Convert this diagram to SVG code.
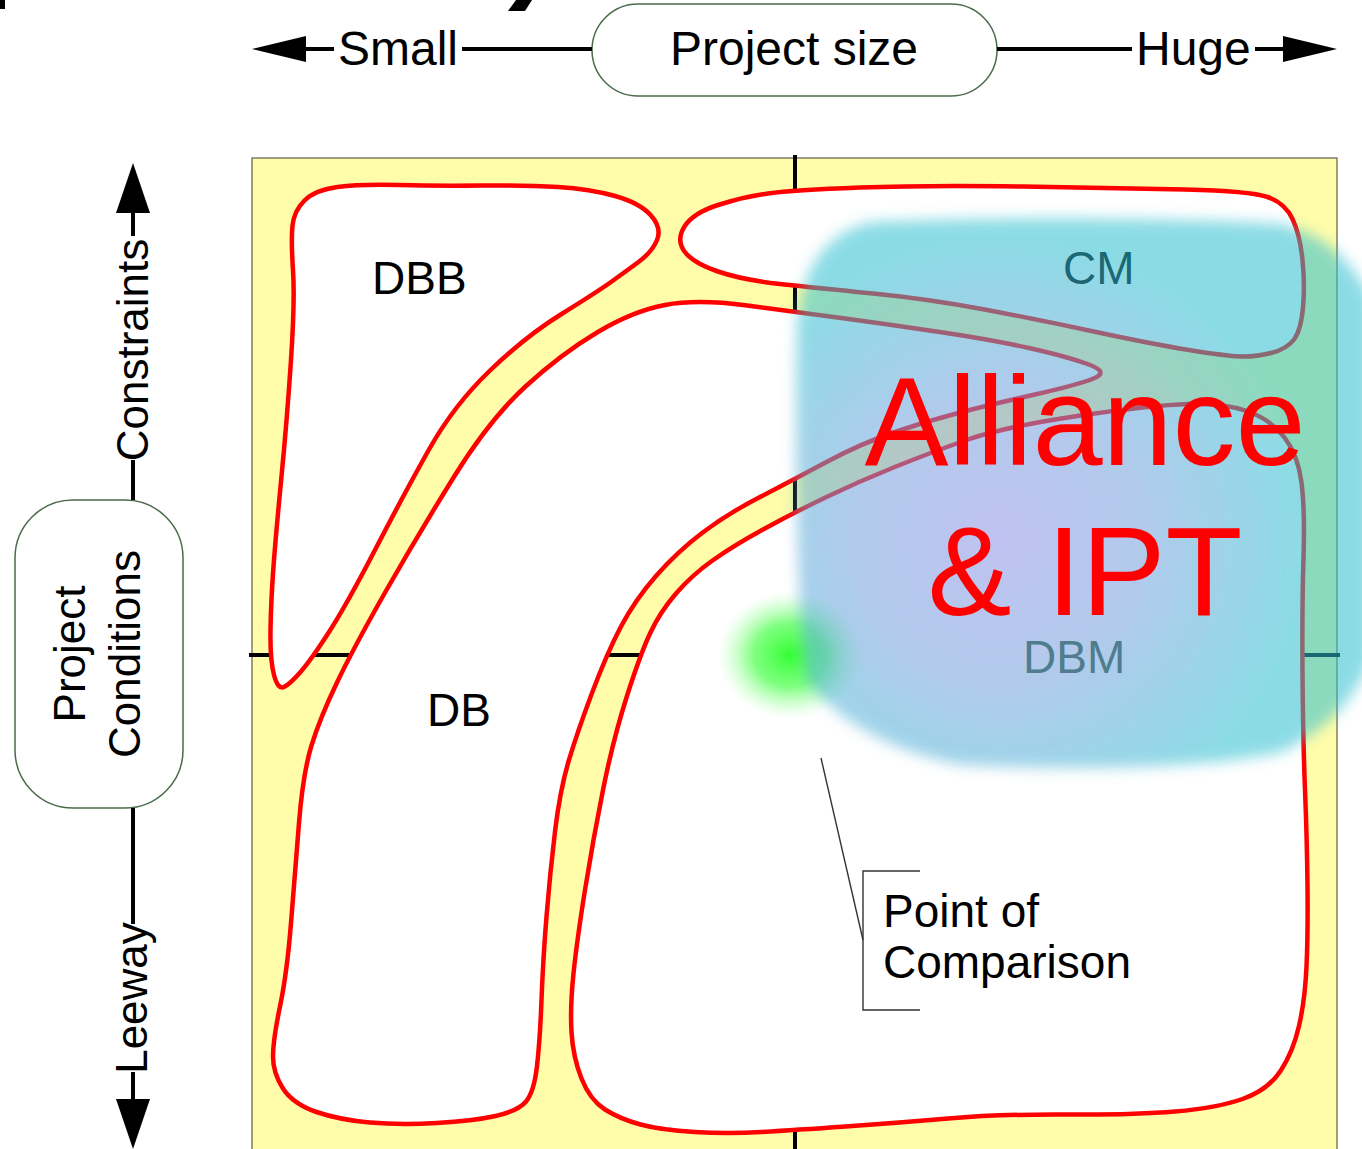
<svg xmlns="http://www.w3.org/2000/svg" width="1362" height="1149" viewBox="0 0 1362 1149">
<style>
.t{font-family:"Liberation Sans",Arial,sans-serif;fill:#000}
.ax{stroke:#000;stroke-width:4;fill:none}
.reg{fill:#fff;stroke:#ff0000;stroke-width:4.5;stroke-linejoin:round}
.pill{fill:#fff;stroke:#4b6b4b;stroke-width:1.5}
.call{fill:none;stroke:#333;stroke-width:1.4}
</style>
<defs>
<marker id="arrH" viewBox="0 0 54 26" refX="44" refY="13" markerWidth="54" markerHeight="26" markerUnits="userSpaceOnUse" orient="auto"><path d="M0,0 L54,13 L0,26 Z" fill="#000"/></marker>
<marker id="arrV" viewBox="0 0 50 34" refX="40" refY="17" markerWidth="50" markerHeight="34" markerUnits="userSpaceOnUse" orient="auto"><path d="M0,0 L50,17 L0,34 Z" fill="#000"/></marker>
<radialGradient id="blobg" gradientUnits="userSpaceOnUse" cx="1000" cy="540" r="360">
<stop offset="0" stop-color="rgb(140,145,228)"/>
<stop offset="0.4" stop-color="rgb(115,160,222)"/>
<stop offset="0.85" stop-color="rgb(45,191,208)"/>
<stop offset="1" stop-color="rgb(45,191,208)"/>
</radialGradient>
<radialGradient id="glow" cx="0.5" cy="0.5" r="0.5">
<stop offset="0" stop-color="#33ff33" stop-opacity="1"/>
<stop offset="0.5" stop-color="#55ff55" stop-opacity="0.75"/>
<stop offset="1" stop-color="#aaffaa" stop-opacity="0"/>
</radialGradient>
<filter id="soft" x="-10%" y="-10%" width="120%" height="120%"><feGaussianBlur stdDeviation="7"/></filter>
</defs>

<rect width="1362" height="1149" fill="#fff"/>
<polygon points="0,0 5,0 5,9 0,9" fill="#000"/>
<polygon points="516,0 532,0 525,11 508,11" fill="#000"/>

<g id="plot">
<rect x="252" y="158" width="1085" height="1000" fill="#fffcaa" stroke="#5e5e4a" stroke-width="1.2"/>
<line class="ax" x1="795" y1="155" x2="795" y2="1149"/>
<line class="ax" x1="249" y1="655" x2="1340" y2="655"/>
</g>

<g id="axis-labels">
<text class="t" x="338" y="65" font-size="48">Small</text>
<text class="t" x="1136" y="65" font-size="48">Huge</text>
<text class="t" font-size="44" text-anchor="middle" transform="translate(148,350) rotate(-90)">Constraints</text>
<text class="t" font-size="44" text-anchor="middle" transform="translate(147,998) rotate(-90)">Leeway</text>
</g>

<g id="project-size">
<rect class="pill" x="592" y="4" width="405" height="92" rx="46"/>
<text class="t" x="794" y="65" font-size="48" text-anchor="middle" fill="#0c160c">Project size</text>
</g>

<g id="project-conditions">
<rect class="pill" x="15" y="500" width="168" height="308" rx="58"/>
<text class="t" font-size="44" text-anchor="middle" transform="translate(85,654) rotate(-90)">Project</text>
<text class="t" font-size="44" text-anchor="middle" transform="translate(140,654) rotate(-90)">Conditions</text>
</g>

<g id="dbb">
<path class="reg" d="M292.5,225.5 Q294,211 304.5,200.5 Q315,190 337.5,187 Q360,184 398,185 Q436,186 481,185.5 Q526,185 558,187 Q590,189 615,196 Q640,203 651,215.5 Q662,228 657,240 Q652,252 638.5,262 Q625,272 611,282 Q597,292 561.5,314 Q526,336 490,370.5 Q454,405 429,449.5 Q404,494 375.5,549 Q347,604 329,632 Q311,660 300.5,672 Q290,684 284,687 Q278,690 274,675 Q270,660 270.5,630 Q271,600 273.5,566.5 Q276,533 281.5,476.5 Q287,420 291,360 Q295,300 293,270 Q291,240 292.5,225.5 Z"/>
<text class="t" x="372" y="294" font-size="46">DBB</text>
</g>

<g id="db">
<path class="reg" d="M337,682.5 Q354,647 386.5,590 Q419,533 454.5,476 Q490,419 525.5,386.5 Q561,354 597,332.5 Q633,311 665,305 Q697,299 747,305.5 Q797,312 845,318.5 Q893,325 943,332.5 Q993,340 1029,348 Q1065,356 1087.5,364 Q1110,372 1093.5,378.5 Q1077,385 1035,394.5 Q993,404 960,412.5 Q927,421 893.5,432.5 Q860,444 826.5,462 Q793,480 760,497 Q727,514 702,533 Q677,552 656,576 Q635,600 621,626.5 Q607,653 592,693 Q577,733 568.5,761.5 Q560,790 555,831.5 Q550,873 546.5,916.5 Q543,960 541.5,1000 Q540,1040 537,1066 Q534,1092 526,1101.5 Q518,1111 495.5,1116 Q473,1121 436.5,1123 Q400,1125 370,1122.5 Q340,1120 316.5,1112 Q293,1104 283,1088.5 Q273,1073 273,1056.5 Q273,1040 280,1006.5 Q287,973 291,923 Q295,873 299,823 Q303,773 311.5,745.5 Q320,718 337,682.5 Z"/>
<text class="t" x="427" y="726" font-size="46">DB</text>
</g>

<g id="cm">
<path class="reg" d="M684.5,251.5 Q676,240 684.5,226.5 Q693,213 718,205 Q743,197 768,193.5 Q793,190 860,187.5 Q927,185 1023.5,186.5 Q1120,188 1185,189.5 Q1250,191 1267.5,197 Q1285,203 1292.5,219 Q1300,235 1302.5,260 Q1305,285 1303,307.5 Q1301,330 1294,339.5 Q1287,349 1271,353 Q1255,357 1240.5,356.5 Q1226,356 1189,350 Q1152,344 1096,332 Q1040,320 984.5,309.5 Q929,299 873,293.5 Q817,288 780,284 Q743,280 718,271.5 Q693,263 684.5,251.5 Z"/>
<text class="t" x="1063" y="284" font-size="46">CM</text>
</g>

<g id="dbm">
<path class="reg" d="M626.5,697.5 Q640,655 650,633.5 Q660,612 676,593.5 Q692,575 712.5,560.5 Q733,546 763,529.5 Q793,513 826.5,497 Q860,481 893.5,467.5 Q927,454 965,440.5 Q1003,427 1077.5,416 Q1152,405 1189,404 Q1226,403 1248.5,411.5 Q1271,420 1284.5,437.5 Q1298,455 1301.5,482.5 Q1305,510 1303.5,558 Q1302,606 1302.5,673 Q1303,740 1305,790 Q1307,840 1307.5,886.5 Q1308,933 1306.5,966.5 Q1305,1000 1299,1026 Q1293,1052 1280.5,1071 Q1268,1090 1242.5,1099 Q1217,1108 1175,1111.5 Q1133,1115 1066.5,1114.5 Q1000,1114 948,1118.5 Q896,1123 845.5,1126.5 Q795,1130 761.5,1132 Q728,1134 694.5,1132 Q661,1130 640.5,1124.5 Q620,1119 605,1109.5 Q590,1100 581.5,1078.5 Q573,1057 571.5,1032 Q570,1007 573.5,973.5 Q577,940 585,890 Q593,840 603,790 Q613,740 626.5,697.5 Z"/>
</g>

<g id="connectors">
<line class="ax" x1="334" y1="49" x2="262" y2="49" marker-end="url(#arrH)"/>
<line class="ax" x1="462" y1="49" x2="592" y2="49"/>
<line class="ax" x1="997" y1="49" x2="1132" y2="49"/>
<line class="ax" x1="1255" y1="49" x2="1327" y2="49" marker-end="url(#arrH)"/>
<line class="ax" x1="133" y1="236" x2="133" y2="173" marker-end="url(#arrV)"/>
<line class="ax" x1="133" y1="460" x2="133" y2="500"/>
<line class="ax" x1="133" y1="808" x2="133" y2="924"/>
<line class="ax" x1="133" y1="1072" x2="133" y2="1139" marker-end="url(#arrV)"/>
<polyline class="call" points="821,758 863,940"/>
<polyline class="call" points="920,871 863,871 863,1010 920,1010"/>
</g>

<g id="point-of-comparison">
<text class="t" x="883" y="927" font-size="46">Point of</text>
<text class="t" x="883" y="978" font-size="46">Comparison</text>
</g>

<g id="alliance-ipt">
<ellipse cx="790" cy="655" rx="72" ry="64" fill="url(#glow)"/>
<path d="M872,222 C1000,216 1200,218 1282,224 C1325,236 1350,258 1372,300 L1372,655 C1360,690 1335,725 1282,752 C1200,770 1060,770 962,765 C890,752 838,720 808,682 C796,640 795,420 797,330 C800,270 825,232 872,222 Z" fill="url(#blobg)" opacity="0.55" filter="url(#soft)"/>
<text class="t" x="1023" y="673" font-size="46" style="fill:#4f7d8e">DBM</text>
<text class="t" x="1085" y="465" font-size="126" text-anchor="middle" style="fill:#ff0000">Alliance</text>
<text class="t" x="1085" y="615" font-size="126" text-anchor="middle" style="fill:#ff0000">&amp; IPT</text>
</g>
</svg>
